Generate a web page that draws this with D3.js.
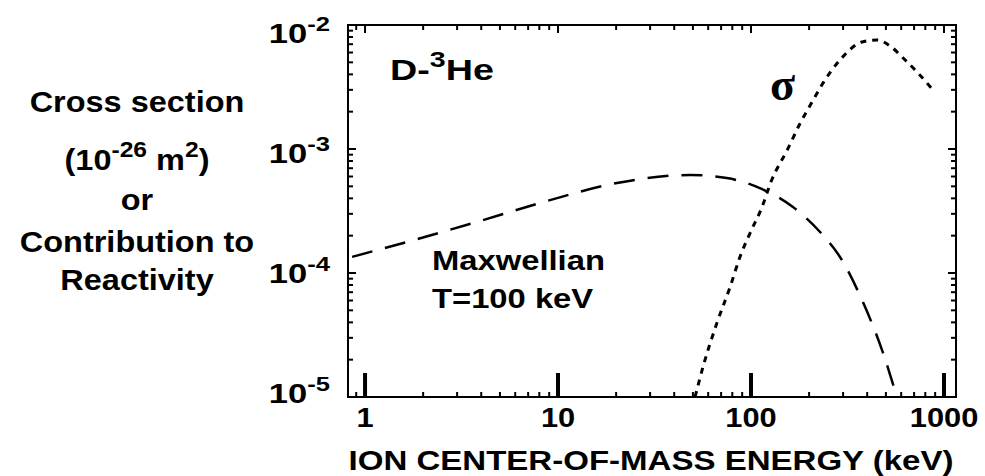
<!DOCTYPE html>
<html lang="en">
<head>
<meta charset="UTF-8">
<title>D-3He cross section</title>
<style>
  body { margin: 0; background: #fff; }
  svg { display: block; }
  text { font-family: "Liberation Sans", Arial, sans-serif; font-weight: bold; fill: #000; }
  .sigma { font-family: "Liberation Serif", "DejaVu Serif", serif; font-weight: bold; }
</style>
</head>
<body>
<svg id="chart" width="985" height="476"></svg>
<script src="https://d3js.org/d3.v7.min.js"></script>
<script>
// energy in keV, values in 10^-26 m^2 (or arbitrary reactivity units)
const maxwellE = [0.857, 1.65, 3.8, 8.77, 20.2, 48.3, 75, 111, 165, 228, 296, 376, 483, 570];
const maxwellV = [1.35e-4, 1.78e-4, 2.58e-4, 3.81e-4, 5.32e-4, 6.17e-4, 5.83e-4, 4.84e-4, 3.40e-4, 2.14e-4, 1.27e-4, 6.05e-5, 2.27e-5, 1.0e-5];
const sigmaE = [51.3, 56.4, 66.6, 77.9, 87.7, 98.9, 114, 128, 154, 180, 210, 236, 289, 376, 450, 525, 614, 725, 877];
const sigmaV = [1e-5, 1.75e-5, 3.96e-5, 7.7e-5, 1.35e-4, 2.10e-4, 3.40e-4, 5.62e-4, 9.8e-4, 1.62e-3, 2.48e-3, 3.40e-3, 5.22e-3, 7.3e-3, 7.57e-3, 6.78e-3, 5.42e-3, 4.18e-3, 2.99e-3];
const xTicks = [1, 10, 100, 1000];
const xTickLabels = ["1", "10", "100", "1000"];
const yTicks = [1e-2, 1e-3, 1e-4, 1e-5];
const yTickExp = ["-2", "-3", "-4", "-5"];
const yTitleLines = ["Cross section", "(10|-26| m|2|)", "or", "Contribution to", "Reactivity"];

const svg = d3.select('#chart');
const pLeft = 348, pRight = 956, pTop = 25, pBottom = 397;

const x = d3.scaleLog().domain([0.816, 1154]).range([pLeft, pRight]);
const y = d3.scaleLog().domain([1e-5, 1e-2]).range([pBottom, pTop]);
// labels sit a little below their ticks in the original
const yLab = d3.scaleLog().domain([1e-5, 1e-2]).range([403, 43]);

const SX = 1.18; // the scanned lettering is wider than Arial

function label(g, px, py, size, anchor, sx) {
    return g.append('text')
        .attr('transform', `translate(${px},${py}) scale(${sx || SX},1)`)
        .attr('text-anchor', anchor)
        .style('font-size', size + 'px');
}

// frame
svg.append('rect')
    .attr('x', pLeft).attr('y', pTop)
    .attr('width', pRight - pLeft).attr('height', pBottom - pTop)
    .attr('fill', 'none').attr('stroke', '#000').attr('stroke-width', 2);

// minor ticks on all four sides
const isPow = d => Math.abs(Math.log10(d) - Math.round(Math.log10(d))) < 1e-6;
const xMinor = x.ticks(20).filter(d => !isPow(d) && x(d) > pLeft + 2 && x(d) < pRight - 2);
const yMinor = y.ticks(20).filter(d => !isPow(d));

function tick(x1, y1, x2, y2, w) {
    svg.append('line')
        .attr('x1', x1).attr('y1', y1).attr('x2', x2).attr('y2', y2)
        .attr('stroke', '#000').attr('stroke-width', w);
}
xMinor.forEach(d => {
    tick(x(d), pBottom, x(d), pBottom - 5, 2);
    tick(x(d), pTop, x(d), pTop + 5, 2);
});
yMinor.forEach(d => {
    tick(pLeft, y(d), pLeft + 5, y(d), 2);
    tick(pRight, y(d), pRight - 5, y(d), 2);
});
yTicks.forEach(d => {
    tick(pLeft, y(d), pLeft + 8, y(d), 2);
    tick(pRight, y(d), pRight - 8, y(d), 2);
});
// major x ticks: heavy bars along the bottom, short ones on top
xTicks.forEach(d => {
    tick(x(d), pBottom, x(d), pBottom - 24, 4);
    tick(x(d), pTop, x(d), pTop + 8, 2);
});

// tick labels
xTicks.forEach((d, i) => {
    label(svg, x(d), 427, 28, 'middle', 1.1).text(xTickLabels[i]);
});
yTicks.forEach((d, i) => {
    const t = label(svg, 330, yLab(d), 27, 'end', 1.28);
    t.append('tspan').text('10');
    t.append('tspan').attr('dy', -12).style('font-size', '20px').text(yTickExp[i]);
});

// axis title
label(svg, 651, 470, 28, 'middle').text('ION CENTER-OF-MASS ENERGY (keV)');

// left title, "|" marks superscript pieces
const titleBase = [112, 170, 210, 252, 290];
yTitleLines.forEach((line, i) => {
    const t = label(svg, 137, titleBase[i], 29, 'middle', 1.12);
    line.split('|').forEach((part, k) => {
        if (!part) return;
        const sp = t.append('tspan').text(part);
        if (k % 2 === 1) sp.attr('dy', -13).style('font-size', '22px');
        else if (k > 0) sp.attr('dy', 13);
    });
});

// curves
const line = d3.line()
    .x(d => x(d[0]))
    .y(d => y(d[1]))
    .curve(d3.curveMonotoneX);

svg.append('path')
    .datum(maxwellE.map((e, i) => [e, maxwellV[i]]))
    .attr('d', line)
    .attr('fill', 'none').attr('stroke', '#000')
    .attr('stroke-width', 2.5).attr('stroke-dasharray', '21,13');

svg.append('path')
    .datum(sigmaE.map((e, i) => [e, sigmaV[i]]))
    .attr('d', line)
    .attr('fill', 'none').attr('stroke', '#000')
    .attr('stroke-width', 3).attr('stroke-dasharray', '6,6');

// annotations
const dhe = label(svg, 390, 80, 29, 'start', 1.3);
dhe.append('tspan').text('D-');
dhe.append('tspan').attr('dy', -13).style('font-size', '22px').text('3');
dhe.append('tspan').attr('dy', 13).text('He');

svg.append('text').attr('class', 'sigma')
    .attr('x', 770).attr('y', 100)
    .style('font-size', '46px').text('σ');

label(svg, 432, 270, 28, 'start', 1.17).text('Maxwellian');
label(svg, 432, 308, 28, 'start', 1.17).text('T=100 keV');
</script>
</body>
</html>
